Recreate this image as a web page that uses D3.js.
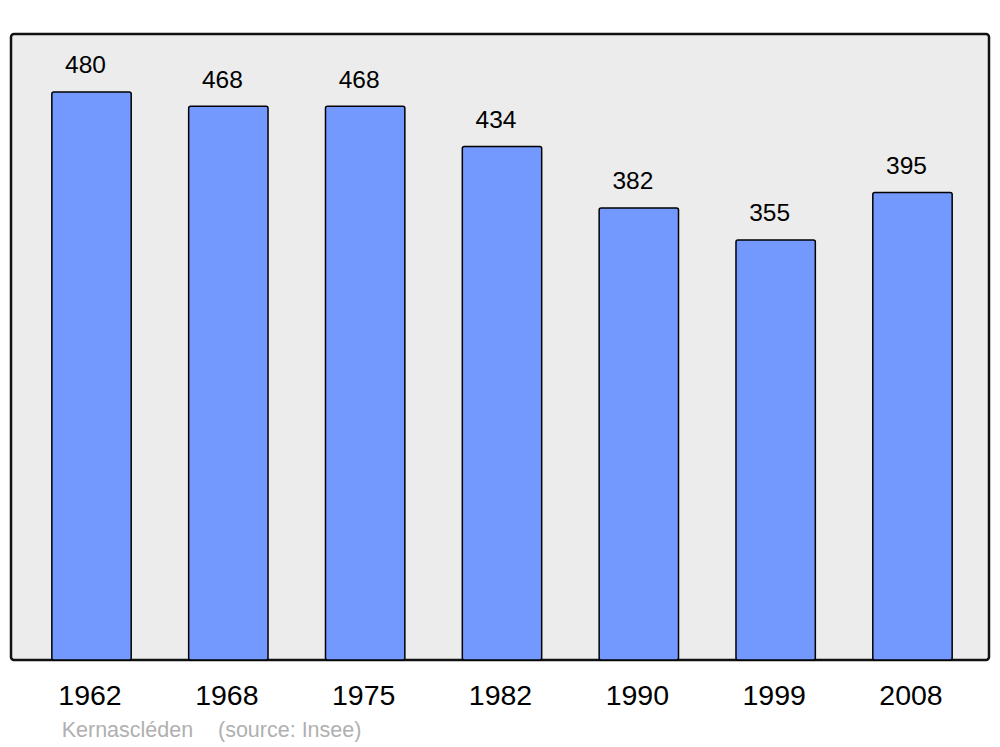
<!DOCTYPE html>
<html><head><meta charset="utf-8">
<script src="https://cdn.jsdelivr.net/npm/d3@7"></script>
<style>body{margin:0;background:#fff}svg{display:block}text{font-family:"Liberation Sans",Arial,sans-serif}</style>
</head><body>
<svg id="c" width="1000" height="747"></svg>
<script>
const years = ["1962","1968","1975","1982","1990","1999","2008"];
const population = [480,468,468,434,382,355,395];
const title = "Kernascléden";
const source = "(source: Insee)";

const svg = d3.select("#c");
const x = d3.scaleBand().domain(years).range([23.1,980.9]).paddingInner(0.42).paddingOuter(0.21);
const y = d3.scaleLinear().domain([0,480]).range([660,92]);

svg.append("rect").attr("x",11).attr("y",34).attr("width",978).attr("height",626)
  .attr("rx",3).attr("fill","#ececec").attr("stroke","#111").attr("stroke-width",2.5);

svg.selectAll("rect.bar").data(years).join("rect").attr("class","bar")
  .attr("x",d=>x(d)).attr("width",x.bandwidth())
  .attr("y",(d,i)=>y(population[i])).attr("height",(d,i)=>y(0)-y(population[i]))
  .attr("rx",2).attr("fill","#7399ff").attr("stroke","#000").attr("stroke-width",1.5);

svg.selectAll("text.val").data(years).join("text").attr("class","val")
  .attr("x",d=>x(d)+x.bandwidth()/2-6).attr("y",(d,i)=>y(population[i])-18.7)
  .attr("text-anchor","middle").attr("font-size",24.5).attr("fill","#000")
  .text((d,i)=>population[i]);

const xAxis = svg.append("g").attr("transform","translate(0,660)")
  .call(d3.axisBottom(x).tickSize(0).tickPadding(0));
xAxis.select(".domain").remove();
xAxis.selectAll("text").attr("font-size",28.5).attr("fill","#000").attr("dy",null).attr("y",45)
  .attr("dx",-1.5).attr("font-family","'Liberation Sans',Arial,sans-serif");

svg.append("text").attr("x",61.7).attr("y",737).attr("font-size",21.5).attr("fill","#b0b0b0").text(title);
svg.append("text").attr("x",218).attr("y",737).attr("font-size",21.5).attr("fill","#b0b0b0").text(source);
</script>
</body></html>
